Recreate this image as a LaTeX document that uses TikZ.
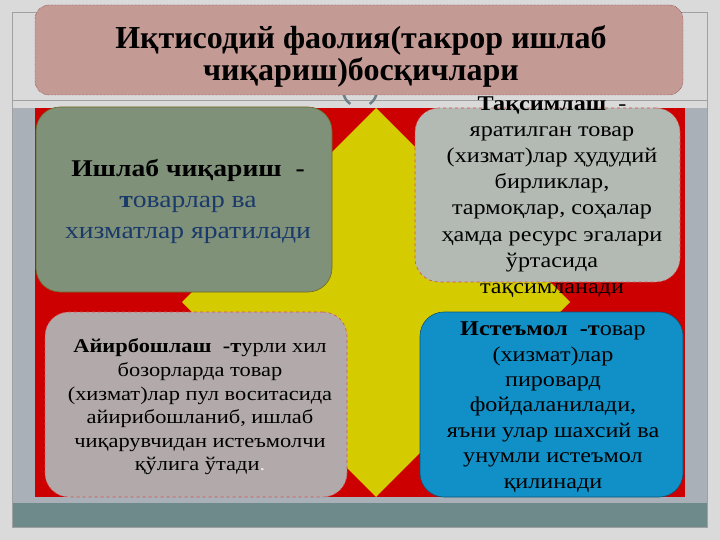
\documentclass[tikz,border=0pt]{standalone}
\usepackage{fontspec}
\setmainfont[FakeStretch=1.15]{Liberation Serif}
\newfontfamily\titlefont{Liberation Serif}
\definecolor{slidebg}{HTML}{DADADA}
\definecolor{panelgray}{HTML}{A9B0B8}
\definecolor{bandteal}{HTML}{6F8A8A}
\definecolor{stagered}{HTML}{CC0000}
\definecolor{crossyellow}{HTML}{D4CC00}
\definecolor{titlerose}{HTML}{C49A95}
\definecolor{prodgreen}{HTML}{80917A}
\definecolor{distgray}{HTML}{B3B9B3}
\definecolor{exchgray}{HTML}{B2AAAA}
\definecolor{consblue}{HTML}{1190C8}
\definecolor{textblue}{HTML}{1A3A6A}
\definecolor{framegray}{HTML}{A0A0A0}
\definecolor{ringgray}{HTML}{6F7F88}
\begin{document}
\begin{tikzpicture}[x=1pt,y=-1pt,
  stagebox/.style={rounded corners=24pt, line width=0.6pt, inner sep=0pt},
  stagetext/.style={align=center, inner sep=0pt}]
\useasboundingbox (0,0) rectangle (720,540);
% slide background and frame
\fill[slidebg] (0,0) rectangle (720,540);
\fill[panelgray] (12,108) rectangle (707,503);
\fill[bandteal] (12,503) rectangle (707,527);
\draw[framegray, thin] (12,12) rectangle (707,527);
\draw[framegray, thin] (12,100) -- (707,100);
% red field with yellow cross
\fill[stagered] (35,108) rectangle (685,497);
\fill[crossyellow] (376,108) -- (570,302) -- (376,497) -- (182,302) -- cycle;
% four stages
\node[stagebox, fill=prodgreen, draw=olive!70!black, minimum width=296pt, minimum height=185pt]
  (prod) at (184,199.5) {};
\node[stagebox, fill=distgray, draw=stagered!70, dashed, minimum width=265pt, minimum height=174pt]
  (dist) at (547.5,195) {};
\node[stagebox, fill=exchgray, draw=stagered!70, dashed, minimum width=302pt, minimum height=185pt]
  (exch) at (196,404.5) {};
\node[stagebox, fill=consblue, draw=consblue!60!black, minimum width=263pt, minimum height=185pt]
  (cons) at (551.5,404.5) {};
\node[stagetext, font=\fontsize{24}{31}\selectfont, text=textblue] (prodtext) at (188,201)
  {\textcolor{black}{\bfseries Ишлаб чиқариш\ \ -}\\{\bfseries т}оварлар ва\\хизматлар яратилади};
\node[stagetext, font=\fontsize{21}{26.2}\selectfont] (disttext) at (552,197)
  {{\bfseries Тақсимлаш}\ \ -\\яратилган товар\\(хизмат)лар ҳудудий\\бирликлар,\\тармоқлар, соҳалар\\ҳамда ресурс эгалари\\ўртасида\\тақсимланади};
\node[stagetext, font=\fontsize{19.5}{23.6}\selectfont] (exchtext) at (200,407)
  {{\bfseries Айирбошлаш\ \ -т}урли хил\\бозорларда товар\\(хизмат)лар пул воситасида\\айирибошланиб, ишлаб\\чиқарувчидан истеъмолчи\\қўлига ўтади\textcolor{white!85!gray}{.}};
\node[stagetext, font=\fontsize{21}{25.4}\selectfont] (constext) at (553,407)
  {{\bfseries Истеъмол\ \ -т}овар\\(хизмат)лар\\пировард\\фойдаланилади,\\яъни улар шахсий ва\\унумли истеъмол\\қилинади};
% small ring under the title
\draw[ringgray, line width=2.5pt] (343,90) arc (180:125:17);
\draw[ringgray, line width=2.5pt] (377,90) arc (0:55:17);
% title
\node[rounded corners=14pt, fill=titlerose, draw=stagered!50!black, densely dotted,
  minimum width=648pt, minimum height=90pt, inner sep=0pt] (titlebox) at (359,50) {};
\node[stagetext, font=\titlefont\bfseries\fontsize{32}{32}\selectfont] (titletext) at (361,56)
  {Иқтисодий фаолия(такрор ишлаб\\чиқариш)босқичлари};
\end{tikzpicture}
\end{document}
